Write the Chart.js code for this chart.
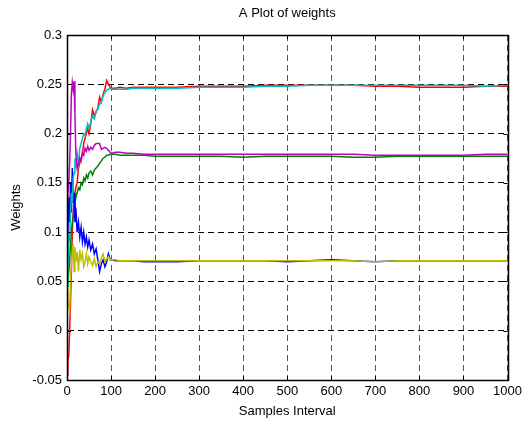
<!DOCTYPE html>
<html>
<head>
<meta charset="utf-8">
<script src="https://cdn.jsdelivr.net/npm/chart.js@4"></script>
<style>
  html, body { margin: 0; padding: 0; background: #fff; }
  #wrap { width: 526px; height: 422px; }
</style>
</head>
<body>
<div id="wrap"><canvas id="weightsChart"></canvas></div>
<script>
// sample positions (denser at the start where the weights are noisy)
const samples = [0,2,4,6,8,10,12,14,16,18,20,23,26,29,32,35,38,41,44,47,50,54,58,62,66,70,74,78,82,86,90,94,98,102,110,120,135,150,175,200,250,300,350,400,450,500,550,600,650,700,750,800,850,900,950,1000];

const redW = [-0.045,-0.03,-0.025,0.0,0.03,0.06,0.1,0.12,0.13,0.14,0.145,
  0.15,0.165,0.17,0.175,0.18,0.19,0.195,0.2,0.205,0.2,
  0.21,0.224,0.218,0.222,0.226,0.237,0.232,0.24,0.245,0.254,0.25,0.247,0.246,
  0.246,0.247,0.246,0.247,0.247,0.247,
  0.247,0.248,0.248,0.248,0.249,0.249,0.249,0.249,0.249,0.248,0.248,0.247,0.247,0.247,0.248,0.248];
const cyanW = [0.05,0.06,0.1,0.09,0.12,0.14,0.13,0.155,0.16,0.175,0.165,
  0.18,0.17,0.185,0.19,0.195,0.2,0.198,0.205,0.21,0.205,
  0.212,0.218,0.215,0.222,0.225,0.23,0.232,0.238,0.242,0.244,0.245,0.246,0.245,
  0.245,0.245,0.245,0.246,0.246,0.246,
  0.246,0.247,0.247,0.247,0.248,0.248,0.249,0.249,0.249,0.249,0.249,0.249,0.249,0.249,0.248,0.249];
const magentaW = [0.13,0.14,0.15,0.17,0.2,0.24,0.252,0.245,0.253,0.22,0.18,
  0.165,0.17,0.175,0.172,0.18,0.178,0.185,0.182,0.187,0.183,
  0.186,0.184,0.188,0.19,0.19,0.19,0.184,0.185,0.186,0.185,0.183,0.181,0.18,
  0.181,0.181,0.18,0.18,0.179,0.179,
  0.179,0.179,0.179,0.179,0.179,0.179,0.179,0.179,0.179,0.178,0.178,0.178,0.178,0.178,0.179,0.179];
const greenW = [0.045,0.05,0.06,0.07,0.09,0.1,0.11,0.115,0.12,0.13,0.135,
  0.14,0.145,0.143,0.15,0.148,0.155,0.152,0.158,0.155,0.16,
  0.162,0.158,0.163,0.165,0.167,0.17,0.172,0.175,0.176,0.178,0.178,0.179,0.179,
  0.179,0.178,0.178,0.178,0.178,0.177,
  0.177,0.177,0.177,0.176,0.177,0.177,0.177,0.177,0.176,0.176,0.177,0.177,0.177,0.177,0.177,0.177];
const blueW = [0.13,0.1,0.135,0.11,0.15,0.12,0.165,0.13,0.14,0.11,0.125,
  0.1,0.11,0.095,0.105,0.09,0.1,0.088,0.095,0.085,0.092,
  0.082,0.088,0.078,0.083,0.072,0.06,0.068,0.072,0.065,0.07,0.078,0.072,0.072,
  0.071,0.071,0.071,0.071,0.07,0.07,
  0.07,0.071,0.071,0.071,0.071,0.07,0.071,0.072,0.071,0.07,0.071,0.071,0.071,0.071,0.071,0.071];
const yellowW = [0.042,0.03,0.025,0.02,0.05,0.07,0.08,0.088,0.06,0.085,0.07,
  0.08,0.06,0.082,0.072,0.078,0.065,0.07,0.078,0.068,0.075,
  0.07,0.066,0.073,0.065,0.07,0.068,0.074,0.078,0.07,0.073,0.075,0.072,0.072,
  0.072,0.071,0.071,0.071,0.071,0.071,
  0.071,0.071,0.071,0.071,0.071,0.071,0.071,0.071,0.071,0.07,0.071,0.071,0.071,0.071,0.071,0.071];

const xTicks = [0,100,200,300,400,500,600,700,800,900,1000];
const yTicks = [-0.05,0,0.05,0.1,0.15,0.2,0.25,0.3];

const FONT = 'Arial, "Liberation Sans", sans-serif';
const FSIZE = 13;

function series(label, ys, color) {
  return {
    label: label,
    data: samples.map((x, i) => ({ x: x, y: ys[i] })),
    borderColor: color,
    borderWidth: 1.5,
    pointRadius: 0,
    tension: 0,
    fill: false
  };
}

// MATLAB-like box: frame on all sides, inward ticks, title
const boxPlugin = {
  id: 'box',
  afterDatasetsDraw(chart) {
    const { ctx, chartArea: a, scales: { x, y } } = chart;
    ctx.save();
    ctx.strokeStyle = '#000';
    ctx.lineWidth = 1;
    ctx.beginPath();
    xTicks.forEach(v => {
      const px = Math.round(x.getPixelForValue(v)) + 0.5;
      ctx.moveTo(px, a.bottom); ctx.lineTo(px, a.bottom - 4);
      ctx.moveTo(px, a.top); ctx.lineTo(px, a.top + 4);
    });
    yTicks.forEach(v => {
      const py = Math.round(y.getPixelForValue(v)) + 0.5;
      ctx.moveTo(a.left, py); ctx.lineTo(a.left + 4, py);
      ctx.moveTo(a.right, py); ctx.lineTo(a.right - 4, py);
    });
    ctx.stroke();
    ctx.lineWidth = 1.5;
    ctx.strokeRect(Math.round(a.left) + 0.5, Math.round(a.top) + 0.5,
                   Math.round(a.right - a.left), Math.round(a.bottom - a.top));
    ctx.fillStyle = '#000';
    ctx.font = FSIZE + 'px ' + FONT;
    ctx.textAlign = 'center';
    ctx.textBaseline = 'middle';
    ctx.fillText('A Plot of weights', (a.left + a.right) / 2, 13);
    ctx.restore();
  }
};

new Chart(document.getElementById('weightsChart'), {
  type: 'line',
  data: {
    datasets: [
      series('w6', yellowW, '#bfbf00'),
      series('w3', magentaW, '#bf00bf'),
      series('w2', cyanW, '#00bfbf'),
      series('w5', blueW, '#0000ff'),
      series('w4', greenW, '#008000'),
      series('w1', redW, '#ff0000')
    ]
  },
  options: {
    responsive: true,
    maintainAspectRatio: false,
    animation: false,
    layout: { padding: { top: 35, right: 18, left: 0, bottom: 0 } },
    plugins: {
      legend: { display: false },
      tooltip: { enabled: false },
      title: { display: false }
    },
    scales: {
      x: {
        type: 'linear',
        min: 0, max: 1000,
        afterBuildTicks: s => { s.ticks = xTicks.map(v => ({ value: v })); },
        afterFit: s => { s.height = 42; },
        ticks: { color: '#000', font: { family: FONT, size: FSIZE }, padding: 4, maxRotation: 0,
                 callback: v => String(v) },
        grid: { color: '#555', lineWidth: 1, drawTicks: false },
        border: { display: true, color: '#000', dash: [6, 4] },
        title: { display: true, text: 'Samples Interval', color: '#000',
                 font: { family: FONT, size: FSIZE }, padding: { top: 0, bottom: 3 } }
      },
      y: {
        type: 'linear',
        min: -0.05, max: 0.3,
        afterBuildTicks: s => { s.ticks = yTicks.map(v => ({ value: v })); },
        afterFit: s => { s.width = 67; },
        ticks: { color: '#000', font: { family: FONT, size: FSIZE }, padding: 5,
                 callback: v => String(parseFloat(v.toFixed(2))) },
        grid: { color: '#000', lineWidth: 1, drawTicks: false },
        border: { display: true, color: '#000', dash: [6, 4] },
        title: { display: true, text: 'Weights', color: '#000',
                 font: { family: FONT, size: FSIZE }, padding: { top: 9, bottom: 0 } }
      }
    }
  },
  plugins: [boxPlugin]
});
</script>
</body>
</html>
